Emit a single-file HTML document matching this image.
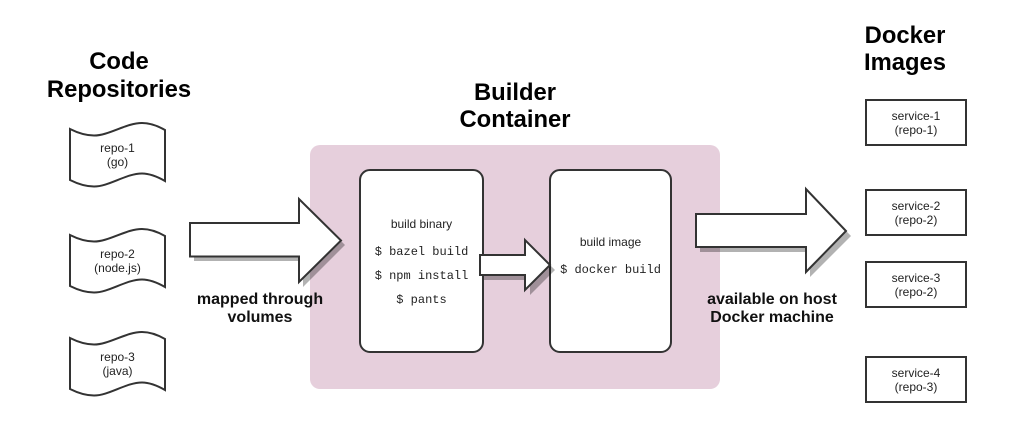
<!DOCTYPE html>
<html><head><meta charset="utf-8"><style>
html,body{margin:0;padding:0;background:#fff;width:1018px;height:422px;overflow:hidden}
svg{display:block}
text{font-family:"Liberation Sans",sans-serif;fill:#000}
.h{font-size:23.800px;font-weight:bold;text-anchor:middle}
.b{font-size:16px;font-weight:bold;text-anchor:middle;fill:#111}
.s{font-size:12px;text-anchor:middle;fill:#222}
.m{font-family:"Liberation Mono",monospace;font-size:12px;text-anchor:middle;fill:#222}
.l{fill:#fff;stroke:#333;stroke-width:2}
.sh{fill:#000;opacity:.3}
</style></head><body>
<svg width="1018" height="422" viewBox="0 0 1018 422" xmlns="http://www.w3.org/2000/svg">
<defs><path id="tape" d="M70 129C78 133 86 135.500 94 135.500C109 135.500 126 123 142 123C150 123 158 126 165 130V181C158 177 150 173.500 142 173.500C126 173.500 109 186.500 94 186.500C86 186.500 78 184 70 180Z"/></defs>
<rect x="310" y="145" width="410" height="244" rx="10" fill="#e6cfdc"/>

<text class="h" x="119" y="69">Code</text>
<text class="h" x="119" y="97">Repositories</text>
<text class="h" x="515" y="100">Builder</text>
<text class="h" x="515" y="127">Container</text>
<text class="h" x="905" y="43">Docker</text>
<text class="h" x="905" y="70">Images</text>

<use href="#tape" class="l"/>
<use href="#tape" class="l" y="106"/>
<use href="#tape" class="l" y="209"/>
<text class="s" x="117.500" y="152">repo-1</text><text class="s" x="117.500" y="166">(go)</text>
<text class="s" x="117.500" y="258">repo-2</text><text class="s" x="117.500" y="272">(node.js)</text>
<text class="s" x="117.500" y="361">repo-3</text><text class="s" x="117.500" y="375">(java)</text>

<path class="sh" d="M194 227H303V203L345 245L303 287V261H194Z"/>
<path class="l" d="M190 223H299V199L341 240.500L299 282V256.500H190Z"/>
<text class="b" x="260" y="304">mapped through</text>
<text class="b" x="260" y="322">volumes</text>

<rect class="l" x="360" y="170" width="123" height="182" rx="10"/>
<rect class="l" x="550" y="170" width="121" height="182" rx="10"/>
<text class="s" x="421.500" y="228">build binary</text>
<text class="m" x="421.500" y="255">$ bazel build</text>
<text class="m" x="421.500" y="279">$ npm install</text>
<text class="m" x="421.500" y="303">$ pants</text>
<text class="s" x="610.500" y="246">build image</text>
<text class="m" x="610.500" y="273">$ docker build</text>

<path class="sh" d="M484 260H530V245L555 270L530 295V280H484Z"/>
<path class="l" d="M480 255H525V240L550 265L525 290V275H480Z"/>

<path class="sh" d="M700 219H810V194L851 236L810 277V252H700Z"/>
<path class="l" d="M696 214H806V189L846 231L806 272V247H696Z"/>
<text class="b" x="772" y="304">available on host</text>
<text class="b" x="772" y="322">Docker machine</text>

<rect class="l" x="866" y="100" width="100" height="45"/>
<rect class="l" x="866" y="190" width="100" height="45"/>
<rect class="l" x="866" y="262" width="100" height="45"/>
<rect class="l" x="866" y="357" width="100" height="45"/>
<text class="s" x="916" y="120">service-1</text><text class="s" x="916" y="134">(repo-1)</text>
<text class="s" x="916" y="210">service-2</text><text class="s" x="916" y="224">(repo-2)</text>
<text class="s" x="916" y="282">service-3</text><text class="s" x="916" y="296">(repo-2)</text>
<text class="s" x="916" y="377">service-4</text><text class="s" x="916" y="391">(repo-3)</text>
</svg>
</body></html>
